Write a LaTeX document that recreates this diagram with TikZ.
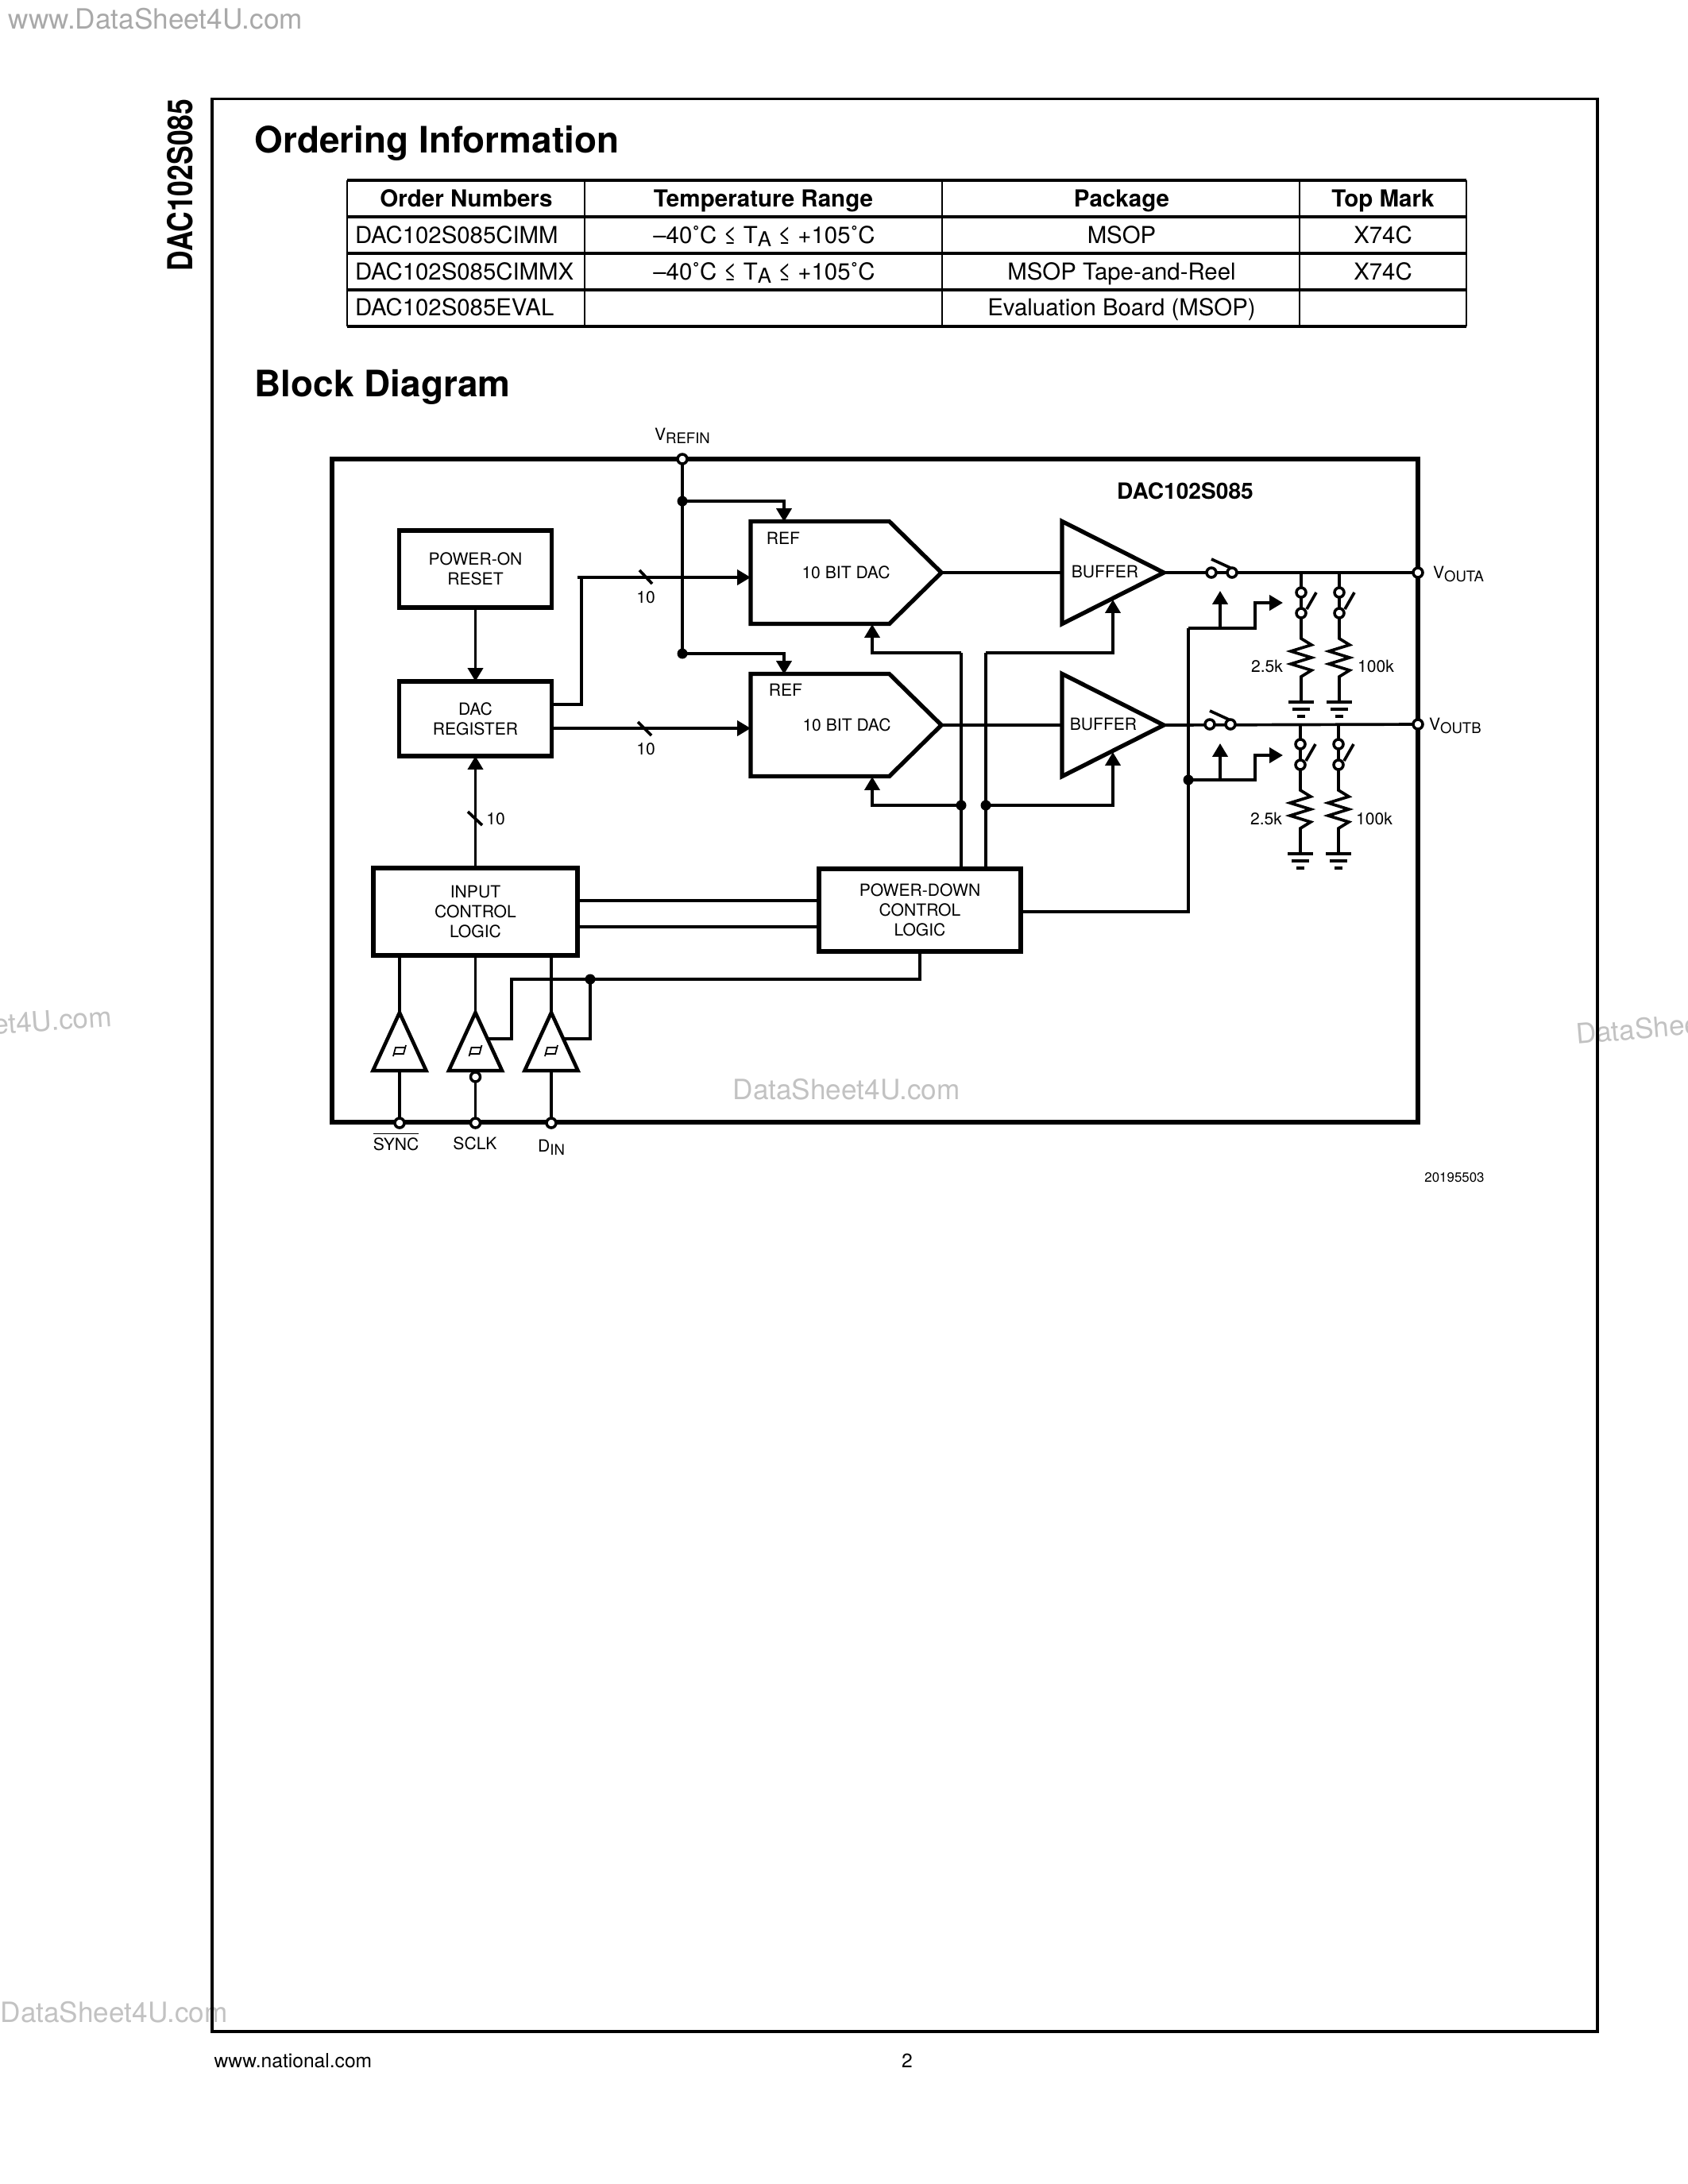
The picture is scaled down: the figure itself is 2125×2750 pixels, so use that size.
\documentclass[tikz,border=0pt]{standalone}
\usepackage{fontspec}
\setmainfont{TeX Gyre Heros}
\usetikzlibrary{shapes.geometric,shapes.symbols,arrows.meta,calc}
\definecolor{markA}{HTML}{A9A9A9}
\definecolor{markB}{HTML}{C2C2C2}
\newcommand{\blockfont}{\fontsize{6}{7.1}\selectfont}
\newcommand{\cellfont}{\fontsize{8.35}{10}\selectfont}
\newcommand{\headfont}{\fontsize{8.4}{10}\selectfont\bfseries}
\newcommand{\titlefont}{\fontsize{13.05}{16}\selectfont\bfseries}
\newcommand{\markfont}{\fontsize{10}{12}\selectfont}
\newcommand{\subtxt}[1]{\raisebox{-1.4pt}{\scalebox{.88}{#1}}}
\tikzstyle{block} = [rectangle,
                     draw=black,
                     line width=1.5pt,
                     align=center,
                     inner sep=0pt,
                     outer sep=0pt,
                     font=\blockfont]
\tikzstyle{dacbox} = [signal,
                      signal to=east,
                      signal pointer angle=89,
                      draw=black,
                      line width=1.5pt,
                      minimum width=2.40cm,
                      minimum height=1.29cm,
                      inner sep=0pt,
                      outer sep=0pt]
\tikzstyle{bufferamp} = [isosceles triangle,
                         isosceles triangle apex angle=53.5,
                         draw=black,
                         line width=1.5pt,
                         minimum width=1.27cm,
                         minimum height=1.28cm,
                         inner sep=0pt,
                         outer sep=0pt]
\tikzstyle{inputamp} = [isosceles triangle,
                        isosceles triangle apex angle=49.3,
                        shape border rotate=90,
                        draw=black,
                        line width=1.3pt,
                        minimum width=0.67cm,
                        minimum height=0.73cm,
                        inner sep=0pt,
                        outer sep=0pt]
\tikzstyle{tag} = [inner sep=0pt,
                   outer sep=0pt,
                   font=\blockfont]
\tikzstyle{cell} = [inner sep=0pt,
                    outer sep=0pt,
                    anchor=base,
                    font=\cellfont]
\tikzstyle{headcell} = [inner sep=0pt,
                        outer sep=0pt,
                        anchor=base,
                        font=\headfont]
\tikzstyle{pinhole} = [circle,
                       draw=black,
                       fill=white,
                       line width=1pt,
                       minimum size=0.12cm,
                       inner sep=0pt,
                       outer sep=0pt]
\tikzstyle{junction} = [circle,
                        fill=black,
                        minimum size=0.13cm,
                        inner sep=0pt,
                        outer sep=0pt]
\tikzstyle{wire} = [line width=1.05pt]
\tikzstyle{arrow} = [line width=1.05pt,
                     -{Triangle[length=4.8pt,width=5.4pt]}]
\newcommand{\shuntleg}[3]{
  \draw [wire] (#2,#3) -- (#2,#3+83) -- ++(13,8) -- ++(-26,8) -- ++(26,8) -- ++(-26,8)
    -- ++(26,8) -- (#2,#3+131) -- (#2,#3+163);
  \draw [wire] (#2-16,#3+163) -- (#2+16,#3+163);
  \draw [wire] (#2-11,#3+172) -- (#2+11,#3+172);
  \draw [wire] (#2-5,#3+181) -- (#2+5,#3+181);
  \node (#1hi) [pinhole] at (#2,#3+25) {};
  \node (#1lo) [pinhole] at (#2,#3+51) {};
  \draw [wire] (#2+7,#3+46) -- (#2+19,#3+25);
}
\newcommand{\hystmark}[1]{
  \draw [shift={(#1)}, line width=0.5pt] (-8,7) -- (-5,-4) -- (7,-4);
  \draw [shift={(#1)}, line width=0.5pt] (8,-7) -- (5,4) -- (-7,4);
}

\begin{document}
\begin{tikzpicture}[x=0.01cm,y=-0.01cm]
    \useasboundingbox (0,0) rectangle (2125,2750);

    \node (markTop)   [anchor=base west, inner sep=0pt, font=\markfont, text=markA] at (10,36) {www.DataSheet4U.com};
    \node (markLeft)  [anchor=base east, inner sep=0pt, rotate=4, font=\markfont, text=markB] at (142,1292) {et4U.com};
    \node (markRight) [anchor=base west, inner sep=0pt, rotate=5, font=\markfont, text=markB] at (1984.5,1315) {DataSheet};
    \node (markBot)   [anchor=base west, inner sep=0pt, font=\markfont, text=markB] at (0,2546) {DataSheet4U.com};
    \node (markMid)   [anchor=base west, inner sep=0pt, font=\markfont, text=markB] at (922,1384) {DataSheet4U.com};

    \draw [line width=1.1pt] (267,124.5) rectangle (2011,2558);
    \node (sidetitle) [rotate=90, anchor=east, inner sep=0pt, font=\fontsize{10.1}{12}\selectfont\bfseries] at (227,124)
        {\scalebox{1}[1.22]{DAC102S085}};

    \node (ordering) [anchor=base west, inner sep=0pt, font=\titlefont] at (320,192) {Ordering Information};
    \node (blockttl) [anchor=base west, inner sep=0pt, font=\titlefont] at (320,499) {Block Diagram};

    \draw [line width=0.8pt] (437,227) -- (437,411);
    \draw [line width=0.7pt] (736,227) -- (736,411);
    \draw [line width=0.7pt] (1186,227) -- (1186,411);
    \draw [line width=0.7pt] (1636,227) -- (1636,411);
    \draw [line width=0.8pt] (1846,227) -- (1846,411);
    \draw [line width=1.1pt] (437,227) -- (1846,227);
    \draw [line width=1.1pt] (437,273) -- (1846,273);
    \draw [line width=1.1pt] (437,319) -- (1846,319);
    \draw [line width=1.1pt] (437,365) -- (1846,365);
    \draw [line width=1.1pt] (437,411) -- (1846,411);

    \node (hdOrder) [headcell] at (587,260) {Order Numbers};
    \node (hdTemp)  [headcell] at (961,260) {Temperature Range};
    \node (hdPack)  [headcell] at (1412,260) {Package};
    \node (hdMark)  [headcell] at (1741,260) {Top Mark};
    \node (ordA)    [cell, anchor=base west] at (447,306) {DAC102S085CIMM};
    \node (ordB)    [cell, anchor=base west] at (447,352) {DAC102S085CIMMX};
    \node (ordC)    [cell, anchor=base west] at (447,397) {DAC102S085EVAL};
    \node (tempA)   [cell] at (962,306) {–40˚C ≤ T\subtxt{A} ≤ +105˚C};
    \node (tempB)   [cell] at (962,352) {–40˚C ≤ T\subtxt{A} ≤ +105˚C};
    \node (packA)   [cell] at (1412,306) {MSOP};
    \node (packB)   [cell] at (1412,352) {MSOP Tape-and-Reel};
    \node (packC)   [cell] at (1412,397) {Evaluation Board (MSOP)};
    \node (topA)    [cell] at (1741,306) {X74C};
    \node (topB)    [cell] at (1741,352) {X74C};

    \draw [line width=1.5pt] (418,578) rectangle (1785,1413);
    \node (chipname) [inner sep=0pt, font=\fontsize{8}{10}\selectfont\bfseries] at (1492,618) {DAC102S085};

    \node (por)   [block, minimum width=1.92cm, minimum height=0.97cm] at (598.5,716.5) {POWER-ON\\RESET};
    \node (reg)   [block, minimum width=1.92cm, minimum height=0.94cm] at (598.5,905) {DAC\\REGISTER};
    \node (icl)   [block, minimum width=2.57cm, minimum height=1.10cm] at (598.5,1148) {INPUT\\CONTROL\\LOGIC};
    \node (pdl)   [block, minimum width=2.54cm, minimum height=1.04cm] at (1158,1146) {POWER-DOWN\\CONTROL\\LOGIC};
    \node (dacA)  [dacbox, anchor=west] at (945,721) {};
    \node (dacB)  [dacbox, anchor=west] at (945,913) {};
    \node (bufA)  [bufferamp, anchor=lower side] at (1337,721) {};
    \node (bufB)  [bufferamp, anchor=lower side] at (1337,913) {};
    \node (inA)   [inputamp, anchor=apex] at (503,1275) {};
    \node (inB)   [inputamp, anchor=apex] at (598.5,1275) {};
    \node (inC)   [inputamp, anchor=apex] at (694,1275) {};

    \node (refA)  [tag] at (986,678) {REF};
    \node (refB)  [tag] at (989,869) {REF};
    \node (bitA)  [tag] at (1065,721) {10 BIT DAC};
    \node (bitB)  [tag] at (1066,913) {10 BIT DAC};
    \node (bufAt) [tag] at (1391,720) {BUFFER};
    \node (bufBt) [tag] at (1389,912) {BUFFER};
    \hystmark{503,1323}
    \hystmark{598.5,1323}
    \hystmark{694,1323}

    \coordinate (jctRefA) at (859,631);
    \coordinate (jctRefB) at (859,823);
    \coordinate (refInA)  at (987,657);
    \coordinate (refInB)  at (987,849);
    \coordinate (regUp)   at (694,887);
    \coordinate (regLo)   at (694,917);
    \coordinate (dacInA)  at (945,727);
    \coordinate (dacInB)  at (945,917);
    \coordinate (enDacA)  at (1098,786);
    \coordinate (enDacB)  at (1098,978);
    \coordinate (enBufA)  at (1401,755);
    \coordinate (enBufB)  at (1401,947);
    \coordinate (pdTopL)  at (1210,1094);
    \coordinate (pdTopR)  at (1241,1094);
    \coordinate (turnL)   at (1210,822);
    \coordinate (turnR)   at (1241,822);
    \coordinate (jctL)    at (1210,1014);
    \coordinate (jctR)    at (1241,1014);
    \coordinate (pdOut)   at (1285,1148);
    \coordinate (ctlA)    at (1496,791);
    \coordinate (ctlB)    at (1496,982);
    \coordinate (swUpA)   at (1536,744);
    \coordinate (swUpB)   at (1536,936);
    \coordinate (shA)     at (1615,759);
    \coordinate (shB)     at (1615,951);
    \coordinate (jctEn)   at (743,1233);
    \coordinate (enTurn)  at (644,1233);

    \draw [wire] (859,578) -- (jctRefB);
    \draw [arrow] (jctRefA) -| (refInA);
    \draw [arrow] (jctRefB) -| (refInB);
    \draw [arrow] (por) -- (reg);
    \draw [wire] (regUp) -- (732,887) |- (727,727);
    \draw [arrow] (732,727) -- (dacInA);
    \draw [arrow] (regLo) -- (dacInB |- regLo);
    \draw [wire] (805,718) -- (821,735);
    \draw [wire] (803,909) -- (820,926);
    \node (numA) [tag] at (813,752) {10};
    \node (numB) [tag] at (813,943) {10};
    \draw [arrow] (icl) -- (reg);
    \draw [wire] (589,1022) -- (607,1039);
    \node (numC) [tag] at (624,1031) {10};
    \draw [wire] (727,1134) -- (1031,1134);
    \draw [wire] (727,1167) -- (1031,1167);

    \draw [wire] (pdTopL) -- (turnL);
    \draw [wire] (pdTopR) -- (turnR);
    \draw [arrow] (turnL) -| (enDacA);
    \draw [arrow] (jctL) -| (enDacB);
    \draw [arrow] (turnR) -| (enBufA);
    \draw [arrow] (jctR) -| (enBufB);
    \draw [wire] (dacA.east) -- (bufA.lower side);
    \draw [wire] (dacB.east) -- (bufB.lower side);

    \draw [wire] (pdOut) -| (ctlA);
    \draw [arrow] (ctlA) -- (1580,791) |- (shA);
    \draw [arrow] (ctlB) -- (1580,982) |- (shB);
    \draw [arrow] (ctlA -| swUpA) -- (swUpA);
    \draw [arrow] (ctlB -| swUpB) -- (swUpB);

    \draw [wire] (bufA.apex) -- (1785,721);
    \draw [wire] (bufB.apex) -- (1785,912);
    \draw [wire] (1525,704) -- (1549,715);
    \draw [wire] (1523,895) -- (1547,906);
    \node (swAl) [pinhole] at (1525,721) {};
    \node (swAr) [pinhole] at (1551,721) {};
    \node (swBl) [pinhole] at (1523,912) {};
    \node (swBr) [pinhole] at (1549,912) {};

    \shuntleg{shAa}{1638}{721}
    \shuntleg{shAb}{1686}{721}
    \shuntleg{shBa}{1637}{912}
    \shuntleg{shBb}{1685}{912}
    \node (resAa) [tag] at (1595,839) {2.5k};
    \node (resAb) [tag] at (1732,839) {100k};
    \node (resBa) [tag] at (1594,1031) {2.5k};
    \node (resBb) [tag] at (1730,1031) {100k};

    \draw [wire] (inA.apex |- icl.south) -- (inA.apex);
    \draw [wire] (inB.apex |- icl.south) -- (inB.apex);
    \draw [wire] (inC.apex |- icl.south) -- (inC.apex);
    \draw [wire] (pdl.south) |- (enTurn) -- (644,1308) -- (614,1308);
    \draw [wire] (jctEn) -- (743,1308) -- (709,1308);

    \draw [wire] (inA.lower side) -- (503,1413);
    \draw [wire] (inB.lower side) -- (598.5,1413);
    \draw [wire] (inC.lower side) -- (694,1413);
    \node (bubble) [pinhole] at (598.5,1356) {};

    \node (pinRef)  [pinhole] at (859,578) {};
    \node (pinOutA) [pinhole] at (1785,721) {};
    \node (pinOutB) [pinhole] at (1785,912) {};
    \node (pinSync) [pinhole] at (503,1414) {};
    \node (pinClk)  [pinhole] at (598.5,1414) {};
    \node (pinDin)  [pinhole] at (694,1414) {};
    \node (dotRefA) [junction] at (jctRefA) {};
    \node (dotRefB) [junction] at (jctRefB) {};
    \node (dotL)    [junction] at (jctL) {};
    \node (dotR)    [junction] at (jctR) {};
    \node (dotCtl)  [junction] at (ctlB) {};
    \node (dotEn)   [junction] at (jctEn) {};

    \node (lblRef)  [tag, anchor=base] at (859,554) {V\subtxt{REFIN}};
    \node (lblOutA) [tag, anchor=base west] at (1804,728) {V\subtxt{OUTA}};
    \node (lblOutB) [tag, anchor=base west] at (1799,919) {V\subtxt{OUTB}};
    \node (lblSync) [tag] at (498.5,1437) {$\overline{\mbox{\blockfont SYNC}}$};
    \node (lblClk)  [tag] at (598,1440) {SCLK};
    \node (lblDin)  [tag, anchor=base] at (694,1450) {D\subtxt{IN}};
    \node (figno)   [tag, font=\fontsize{4.8}{6}\selectfont] at (1831,1483) {20195503};

    \node (web)  [anchor=base west, inner sep=0pt, font=\fontsize{7}{9}\selectfont] at (269,2603) {www.national.com};
    \node (page) [anchor=base, inner sep=0pt, font=\fontsize{7}{9}\selectfont] at (1142,2603) {2};
\end{tikzpicture}
\end{document}
